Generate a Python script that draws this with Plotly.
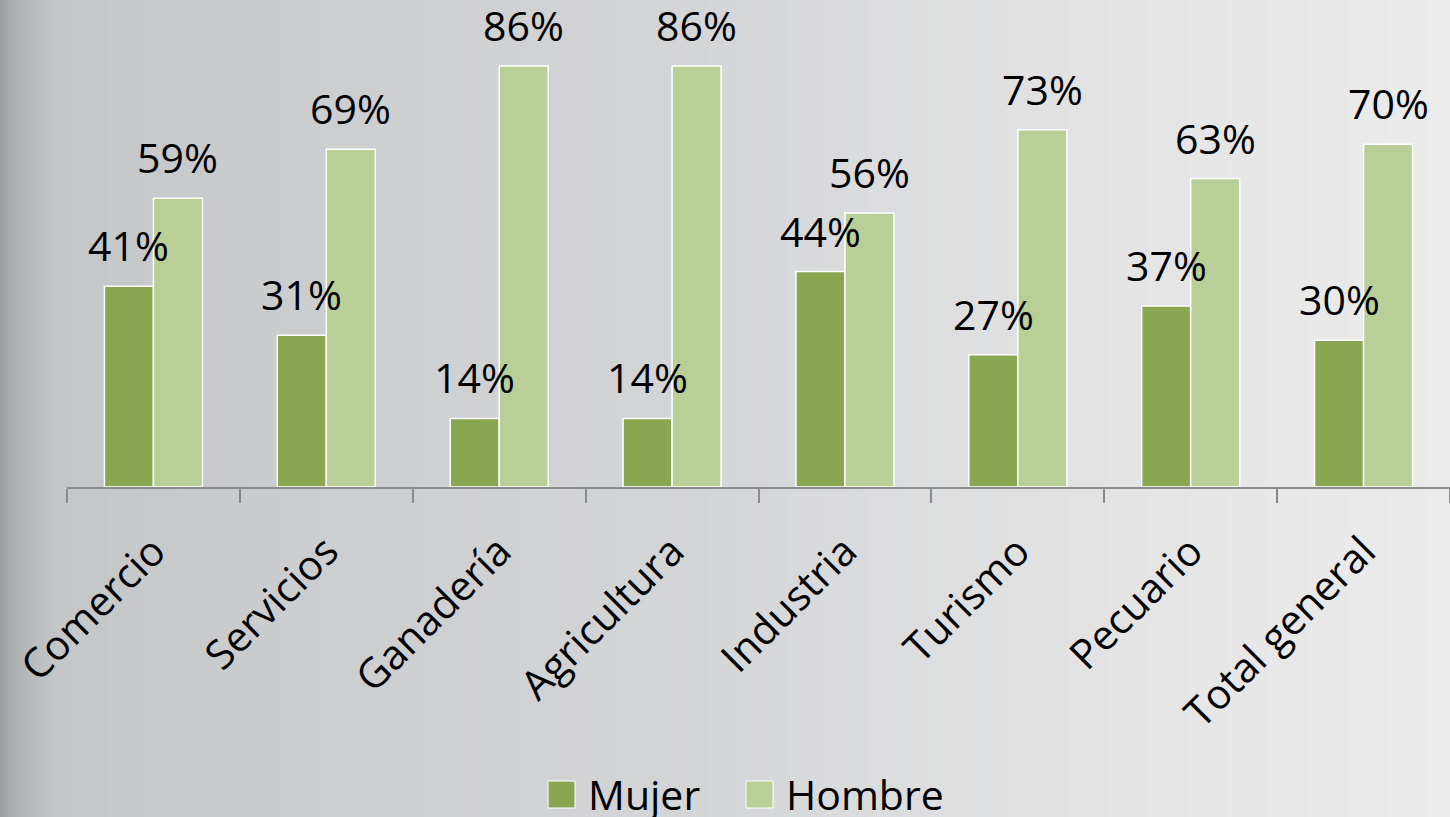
import plotly.graph_objects as go

categories = ["Comercio", "Servicios", "Ganadería", "Agricultura", "Industria",
              "Turismo", "Pecuario", "Total general"]
mujer = [0.41, 0.31, 0.14, 0.14, 0.44, 0.27, 0.37, 0.30]
hombre = [0.59, 0.69, 0.86, 0.86, 0.56, 0.73, 0.63, 0.70]
series_names = ["Mujer", "Hombre"]
series_colors = ["#8aa650", "#bacf97"]

W, H = 1450, 817
L, B = 67, 330
PW, PH = W - L, H - B

fig = go.Figure()
for name, vals, col in zip(series_names, [mujer, hombre], series_colors):
    fig.add_trace(go.Bar(
        name=name, x=categories, y=vals,
        marker=dict(color=col, line=dict(color="white", width=1.5)),
        showlegend=False,
    ))

FONT = "Open Sans, Lato, sans-serif"
annotations = []
for vals, shift in [(mujer, -24.5), (hombre, 24.5)]:
    for c, v in zip(categories, vals):
        annotations.append(dict(
            x=c, y=v, xref="x", yref="y", text=f"{round(v*100)}%",
            showarrow=False, xshift=shift, yshift=11, yanchor="bottom",
            font=dict(family=FONT, size=41, color="#000000"),
        ))


def px2x(px):
    return (px - L) / PW


def py2y(py):
    return (PH - py) / PH


shapes = []


def lerp(a, b, t):
    return tuple(int(round(a[i] + (b[i] - a[i]) * t)) for i in range(3))


stops = [(0, (0x9e, 0x9f, 0xa1)), (20, (0xb3, 0xb4, 0xb6)), (55, (0xc5, 0xc6, 0xc8)),
         (300, (0xcc, 0xcd, 0xcf)), (700, (0xd4, 0xd5, 0xd7)), (1050, (0xe2, 0xe2, 0xe3)),
         (1450, (0xec, 0xec, 0xec))]
x0 = 0
while x0 < W:
    step = 4 if x0 < 80 else 10
    xm = x0 + step / 2
    c = stops[-1][1]
    for i in range(len(stops) - 1):
        if stops[i][0] <= xm <= stops[i + 1][0]:
            t = (xm - stops[i][0]) / (stops[i + 1][0] - stops[i][0])
            c = lerp(stops[i][1], stops[i + 1][1], t)
            break
    shapes.append(dict(type="rect", xref="paper", yref="paper", layer="below",
                       x0=px2x(x0), x1=px2x(x0 + step + 1), y0=py2y(H), y1=py2y(0),
                       fillcolor=f"rgb{c}", line=dict(width=0)))
    x0 += step

legend_items = [(548, series_names[0], series_colors[0]), (746, series_names[1], series_colors[1])]
for lx, name, col in legend_items:
    shapes.append(dict(type="rect", xref="paper", yref="paper",
                       x0=px2x(lx), x1=px2x(lx + 27), y0=py2y(808), y1=py2y(781),
                       fillcolor=col, line=dict(color="white", width=1)))
    annotations.append(dict(x=px2x(lx + 38), y=py2y(794), xref="paper", yref="paper",
                            text=name, showarrow=False, xanchor="left", yanchor="middle",
                            font=dict(family=FONT, size=41, color="#000000")))

fig.update_layout(
    width=W, height=H,
    margin=dict(l=L, r=0, t=0, b=B, pad=0),
    paper_bgcolor="#d0d1d3",
    plot_bgcolor="rgba(0,0,0,0)",
    barmode="group", bargap=0.433, bargroupgap=0,
    font=dict(family=FONT, color="#000000"),
    xaxis=dict(
        range=[-0.5, 7.5], tickangle=-45, tickfont=dict(family=FONT, size=41),
        ticklabelstandoff=22,
        showline=True, linecolor="#8c8c8c", linewidth=1.5,
        ticks="outside", tickson="boundaries", ticklen=14, tickcolor="#8c8c8c",
        tickwidth=1.5, showgrid=False, fixedrange=True,
    ),
    yaxis=dict(range=[0, PH / 489.5], visible=False, showgrid=False, zeroline=False,
               fixedrange=True),
    annotations=annotations,
    shapes=shapes,
    showlegend=False,
)
for t in fig.data:
    t.cliponaxis = False

fig.write_html(
    "out.html",
    config={"displayModeBar": False},
    post_script="document.body.style.margin='0';document.body.style.overflow='hidden';",
)
